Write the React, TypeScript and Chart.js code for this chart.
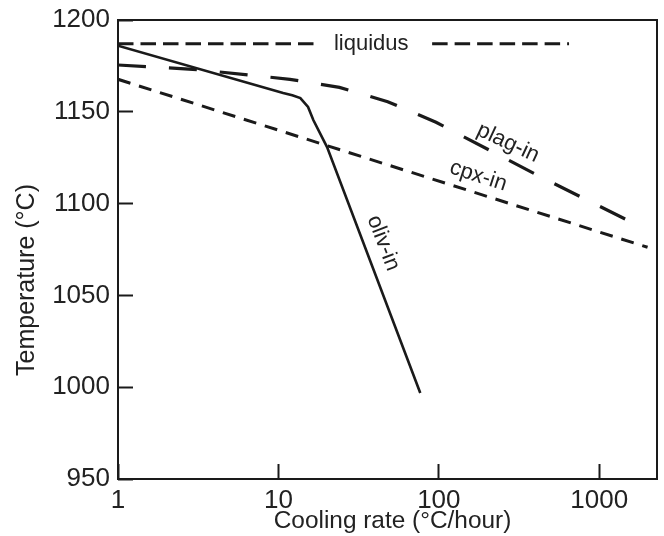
import React, { useEffect, useRef } from "react";
import { Chart, registerables } from "chart.js";

Chart.register(...registerables);

// ---- data (cooling rate in °C/hour, temperature in °C) ----
const liquidusRate = [1, 18.2, 40, 90.8, 648];
const liquidusTemp = [1187, 1187, null, 1187, 1187];

const olivRate = [1, 10.7, 12.2, 13.7, 15.3, 16.5, 20.1, 76.6];
const olivTemp = [1186, 1160.2, 1159, 1157.5, 1152.6, 1145.5, 1130.8, 996.8];

const plagRate = [1, 3.1, 11.8, 24, 48, 96, 400, 1571];
const plagTemp = [1175.5, 1173, 1167.7, 1163.3, 1155.5, 1144.3, 1116, 1090.1];

const cpxRate = [1, 2000];
const cpxTemp = [1167.7, 1076.2];

const xTickValues = [1, 10, 100, 1000];
const xMin = 1;
const xMax = 2290;
const yMin = 950;
const yMax = 1200;
const yStep = 50;

const xTitle = "Cooling rate (°C/hour)";
const yTitle = "Temperature (°C)";

const curveLabelTexts = ["liquidus", "plag-in", "cpx-in", "oliv-in"];
const curveLabelRate = [37.9, 270, 176, 45];
const curveLabelTemp = [1187, 1133, 1115, 1078.5];
const curveLabelAngle = [0, 25, 18, 69];

const FONT = "'Liberation Sans', Arial, Helvetica, sans-serif";
const INK = "#1a1a1a";
const TEXT = "#222";

const toPoints = (xs: number[], ys: (number | null)[]) =>
  xs.map((x, i) => ({ x, y: ys[i] }));

const boxPlugin = {
  id: "boxFrame",
  afterDraw(chart: any) {
    const { ctx, chartArea } = chart;
    ctx.save();
    ctx.strokeStyle = INK;
    ctx.lineWidth = 2;
    ctx.strokeRect(
      chartArea.left,
      chartArea.top,
      chartArea.right - chartArea.left,
      chartArea.bottom - chartArea.top
    );
    ctx.fillStyle = TEXT;
    ctx.textAlign = "center";
    ctx.textBaseline = "middle";
    // x-axis title
    ctx.font = `24.4px ${FONT}`;
    ctx.fillText(xTitle, (chartArea.left + chartArea.right) / 2 + 5, 521);
    // y-axis title
    ctx.font = `25px ${FONT}`;
    ctx.translate(27, 280);
    ctx.rotate(-Math.PI / 2);
    ctx.fillText(yTitle, 0, 0);
    ctx.restore();
  },
};

const curveLabelPlugin = {
  id: "curveLabels",
  afterDatasetsDraw(chart: any) {
    const { ctx, scales } = chart;
    ctx.save();
    ctx.font = `22px ${FONT}`;
    ctx.fillStyle = TEXT;
    ctx.textAlign = "center";
    ctx.textBaseline = "middle";
    curveLabelTexts.forEach((t, i) => {
      const px = scales.x.getPixelForValue(curveLabelRate[i]);
      const py = scales.y.getPixelForValue(curveLabelTemp[i]);
      ctx.save();
      ctx.translate(px, py);
      ctx.rotate((curveLabelAngle[i] * Math.PI) / 180);
      ctx.fillText(t, 0, 0);
      ctx.restore();
    });
    ctx.restore();
  },
};

export default function App() {
  const ref = useRef<HTMLCanvasElement | null>(null);

  useEffect(() => {
    const canvas = ref.current;
    if (!canvas) return;
    const common = {
      pointRadius: 0,
      tension: 0,
      fill: false,
      borderColor: INK,
      spanGaps: false,
    };
    const tickGrid = {
      display: true,
      drawOnChartArea: false,
      drawTicks: true,
      tickLength: -15,
      tickWidth: 2,
      tickColor: INK,
      color: INK,
    };
    const chart = new Chart(canvas, {
      type: "line",
      data: {
        datasets: [
          {
            ...common,
            label: "liquidus",
            data: toPoints(liquidusRate, liquidusTemp),
            borderWidth: 3,
            borderDash: [15.5, 7],
          },
          {
            ...common,
            label: "plag-in",
            data: toPoints(plagRate, plagTemp),
            borderWidth: 3.2,
            borderDash: [28, 23],
          },
          {
            ...common,
            label: "cpx-in",
            data: toPoints(cpxRate, cpxTemp),
            borderWidth: 3,
            borderDash: [13, 9],
          },
          {
            ...common,
            label: "oliv-in",
            data: toPoints(olivRate, olivTemp),
            borderWidth: 2.6,
          },
        ],
      },
      options: {
        responsive: false,
        animation: false,
        events: [],
        layout: { padding: { top: 20, right: 7, left: 0, bottom: 0 } },
        plugins: {
          legend: { display: false },
          tooltip: { enabled: false },
        },
        scales: {
          x: {
            type: "logarithmic",
            min: xMin,
            max: xMax,
            afterBuildTicks: (scale: any) => {
              scale.ticks = xTickValues.map((v) => ({ value: v }));
            },
            afterFit: (scale: any) => {
              scale.height = 57;
              scale.paddingLeft = 0;
              scale.paddingRight = 0;
            },
            border: { display: false },
            grid: tickGrid,
            ticks: {
              autoSkip: false,
              maxRotation: 0,
              padding: 21,
              color: TEXT,
              font: { family: FONT, size: 26 },
              callback: (v: any) => String(v),
            },
            title: { display: false },
          },
          y: {
            type: "linear",
            min: yMin,
            max: yMax,
            afterFit: (scale: any) => {
              scale.width = 118;
              scale.paddingTop = 0;
              scale.paddingBottom = 0;
            },
            border: { display: false },
            grid: tickGrid,
            ticks: {
              stepSize: yStep,
              padding: 23,
              color: TEXT,
              font: { family: FONT, size: 26 },
              callback: (v: any) => String(v),
            },
            title: { display: false },
          },
        },
      },
      plugins: [boxPlugin, curveLabelPlugin],
    } as any);
    return () => chart.destroy();
  }, []);

  return (
    <div
      style={{
        position: "absolute",
        left: 0,
        top: 0,
        width: 664,
        height: 536,
        background: "#fff",
      }}
    >
      <canvas
        ref={ref}
        width={664}
        height={536}
        style={{ display: "block", width: 664, height: 536 }}
      />
    </div>
  );
}
